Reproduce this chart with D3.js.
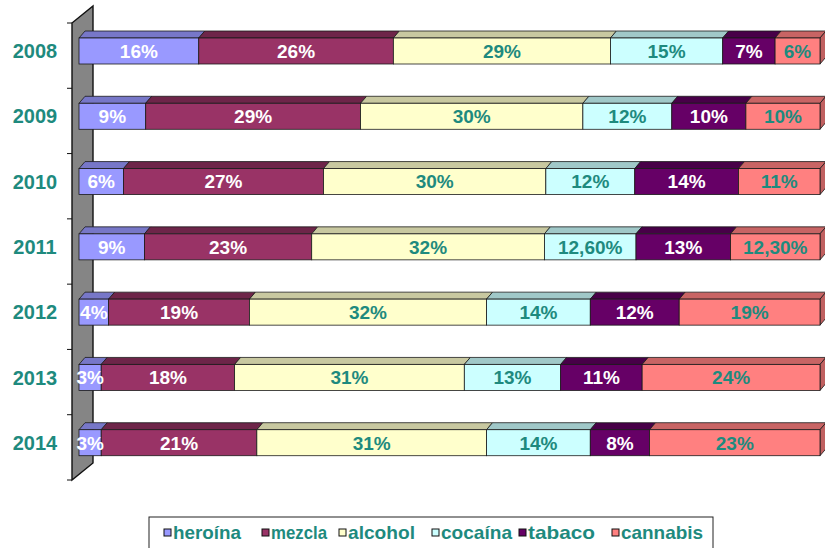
<!DOCTYPE html>
<html>
<head>
<meta charset="utf-8">
<script src="https://cdn.jsdelivr.net/npm/d3@7"></script>
<style>
  html, body { margin: 0; padding: 0; background: #fff; }
  svg { display: block; font-family: "Liberation Sans", Arial, sans-serif; }
</style>
</head>
<body>
<svg id="chart" width="825" height="548"></svg>
<script>
// ---- data ----
const years = ["2008", "2009", "2010", "2011", "2012", "2013", "2014"];
const seriesNames = ["heroína", "mezcla", "alcohol", "cocaína", "tabaco", "cannabis"];
const heroina  = [16, 9, 6, 9, 4, 3, 3];
const mezcla   = [26, 29, 27, 23, 19, 18, 21];
const alcohol  = [29, 30, 30, 32, 32, 31, 31];
const cocaina  = [15, 12, 12, 12.6, 14, 13, 14];
const tabaco   = [7, 10, 14, 13, 12, 11, 8];
const cannabis = [6, 10, 11, 12.3, 19, 24, 23];
const seriesValues = [heroina, mezcla, alcohol, cocaina, tabaco, cannabis];

const colors    = ["#9999ff", "#993366", "#ffffcc", "#ccffff", "#660066", "#ff8080"];
const topColors = ["#7777c8", "#6e2549", "#c8c8a0", "#a0c8c8", "#480048", "#c86464"];
const sideColors= ["#6a6ab4", "#5e1f3e", "#b4b490", "#90b4b4", "#3c003c", "#c06060"];
const labelColors = ["#ffffff", "#ffffff", "#1e8a7e", "#1e8a7e", "#ffffff", "#1e8a7e"];
const teal = "#1e8a7e";

const svg = d3.select("#chart");

// ---- scales ----
const x = d3.scaleLinear().domain([0, 1]).range([79, 820]);
const y = d3.scaleBand().domain(years).range([23, 480]);

const barOffset = 15, barH = 26;   // front face inside band
const dx = 6, dy = 7;              // bar depth
const wallX = 72, wallDx = 21, wallDy = 17;

// ---- wall ----
const [yTop, yBot] = y.range();
svg.append("polygon")
  .attr("points", [[wallX, yTop], [wallX + wallDx, yTop - wallDy], [wallX + wallDx, yBot - wallDy], [wallX, yBot]].map(p => p.join(",")).join(" "))
  .attr("fill", "#858585").attr("stroke", "#111").attr("stroke-width", 1.4);

// ticks at category boundaries
const boundaries = years.map(yr => y(yr)).concat([yBot]);
svg.selectAll("line.tick").data(boundaries).join("line")
  .attr("class", "tick")
  .attr("x1", wallX - 5).attr("x2", wallX)
  .attr("y1", d => d).attr("y2", d => d)
  .attr("stroke", "#111").attr("stroke-width", 1);

// ---- year labels ----
svg.selectAll("text.year").data(years).join("text")
  .attr("class", "year")
  .attr("x", 35)
  .attr("y", d => y(d) + barOffset + barH / 2)
  .attr("dy", "0.36em")
  .attr("text-anchor", "middle")
  .attr("font-size", 20).attr("font-weight", "bold")
  .attr("fill", teal)
  .text(d => d);

// ---- bars ----
const fmt = v => Number.isInteger(v) ? v + "%" : v.toFixed(2).replace(".", ",") + "%";

years.forEach((yr, i) => {
  const vals = seriesValues.map(s => s[i]);
  const total = d3.sum(vals);
  let cum = 0;
  const segs = vals.map((v, k) => {
    const s = { k, v, x0: x(cum / total), x1: x((cum + v) / total) };
    cum += v;
    return s;
  });
  const yf = y(yr) + barOffset;
  const g = svg.append("g");

  g.selectAll("polygon.top").data(segs).join("polygon")
    .attr("points", d => [[d.x0, yf], [d.x0 + dx, yf - dy], [d.x1 + dx, yf - dy], [d.x1, yf]].map(p => p.join(",")).join(" "))
    .attr("fill", d => topColors[d.k]).attr("stroke", "#1a1a1a").attr("stroke-width", 0.8);

  const last = segs[segs.length - 1];
  g.append("polygon")
    .attr("points", [[last.x1, yf], [last.x1 + dx, yf - dy], [last.x1 + dx, yf + barH - dy], [last.x1, yf + barH]].map(p => p.join(",")).join(" "))
    .attr("fill", sideColors[last.k]).attr("stroke", "#1a1a1a").attr("stroke-width", 0.8);

  g.selectAll("rect.front").data(segs).join("rect")
    .attr("x", d => d.x0).attr("y", yf)
    .attr("width", d => d.x1 - d.x0).attr("height", barH)
    .attr("fill", d => colors[d.k]).attr("stroke", "#1a1a1a").attr("stroke-width", 0.8);

  g.selectAll("text.val").data(segs).join("text")
    .attr("x", d => (d.x0 + d.x1) / 2)
    .attr("y", yf + barH / 2)
    .attr("dy", "0.36em")
    .attr("text-anchor", "middle")
    .attr("font-size", 19).attr("font-weight", "bold")
    .attr("fill", d => labelColors[d.k])
    .text(d => fmt(d.v));
});

// ---- legend ----
const legend = svg.append("g");
legend.append("rect")
  .attr("x", 149).attr("y", 517).attr("width", 564).attr("height", 40)
  .attr("fill", "#fff").attr("stroke", "#222").attr("stroke-width", 1);

const legendX = [164, 262, 339, 432, 519, 612];
const legendW = [70, 58, 69, 73, 69, 84];
seriesNames.forEach((name, k) => {
  const lx = legendX[k];
  legend.append("rect")
    .attr("x", lx).attr("y", 529).attr("width", 7).attr("height", 7)
    .attr("fill", colors[k]).attr("stroke", "#111").attr("stroke-width", 1);
  legend.append("text")
    .attr("x", lx + 9).attr("y", 539)
    .attr("font-size", 18.5).attr("font-weight", "bold")
    .attr("fill", teal)
    .attr("textLength", legendW[k] - 2)
    .attr("lengthAdjust", "spacingAndGlyphs")
    .text(name);
});
</script>
</body>
</html>
